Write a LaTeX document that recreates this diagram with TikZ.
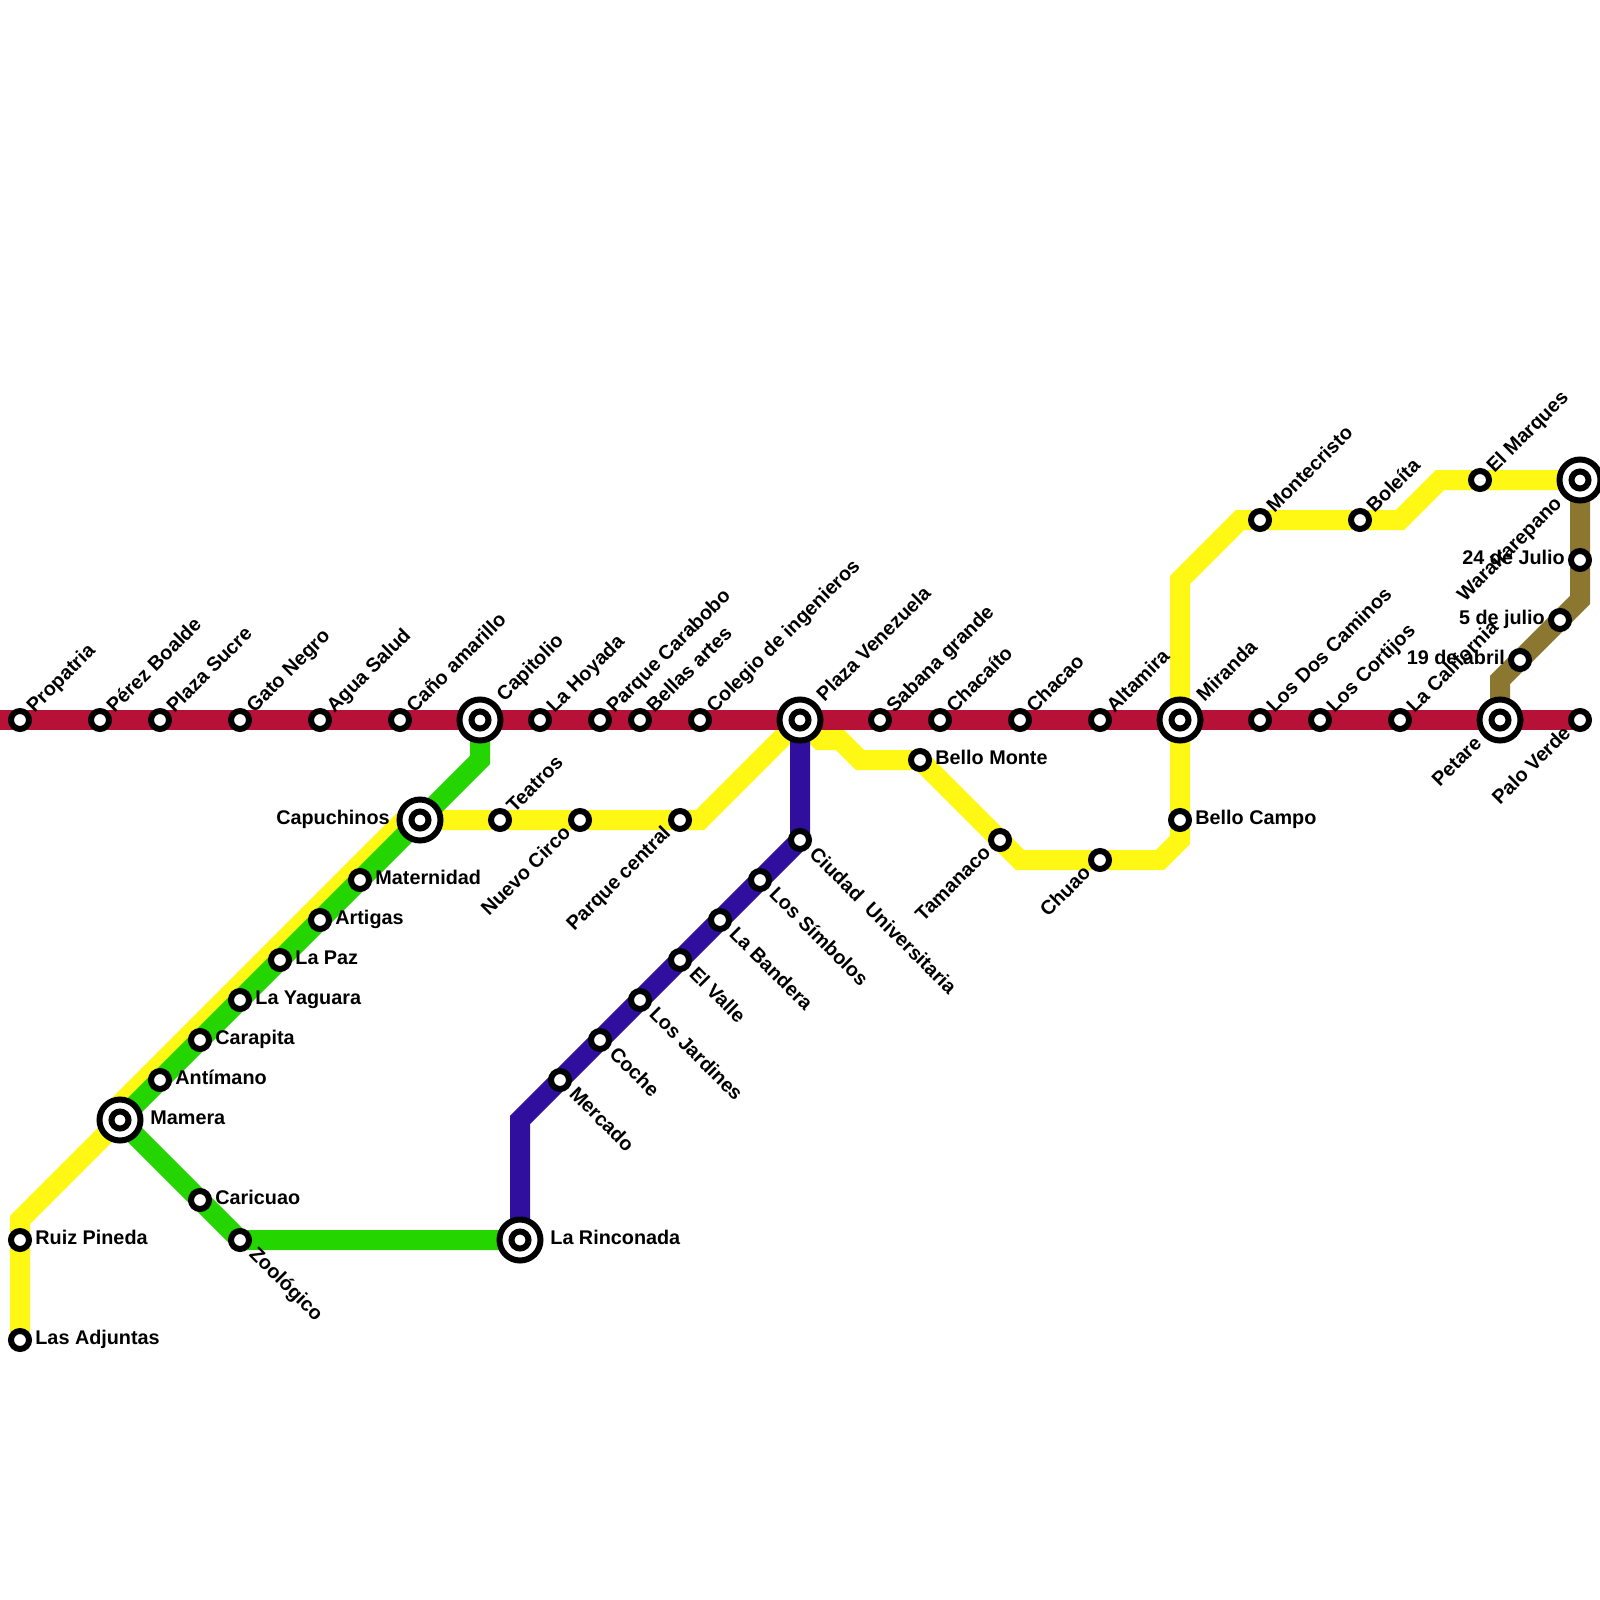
\documentclass[tikz,border=0pt]{standalone}
\usepackage{fontspec}
\setmainfont{Liberation Sans}[BoldFont={Liberation Sans Bold}]
\definecolor{lred}{HTML}{B81138}
\definecolor{lyellow}{HTML}{FFF714}
\definecolor{lgreen}{HTML}{25D500}
\definecolor{lblue}{HTML}{300F9E}
\definecolor{lbrown}{HTML}{8B7730}
\tikzset{
  x=0.5pt,y=-0.5pt,
  metro/.style={line width=10pt,line join=miter},
  sta/.style={circle,draw=black,fill=white,line width=3pt,minimum size=9pt,inner sep=0pt,outer sep=0pt},
  hubo/.style={circle,draw=black,fill=white,line width=3pt,minimum size=20.5pt,inner sep=0pt,outer sep=0pt},
  hubi/.style={circle,draw=black,fill=white,line width=3pt,minimum size=8.5pt,inner sep=0pt,outer sep=0pt},
  txt/.style={font=\bfseries\fontsize{9.9pt}{11pt}\selectfont,inner sep=0pt,text height=7pt,text depth=2pt},
  lne/.style={txt,anchor=west,xshift=5.4pt,yshift=4.8pt,rotate=45},
  lse/.style={txt,anchor=west,xshift=5.8pt,yshift=-5.7pt,rotate=-45},
  lsw/.style={txt,anchor=east,xshift=-5.8pt,yshift=-5.2pt,rotate=45},
  lr/.style={txt,anchor=west,xshift=7.5pt,yshift=0.4pt},
  ll/.style={txt,anchor=east,xshift=-7.4pt,yshift=0.4pt},
  hne/.style={txt,anchor=west,xshift=10.4pt,yshift=10.6pt,rotate=45},
  hsw/.style={txt,anchor=east,xshift=-10.3pt,yshift=-10.5pt,rotate=45},
  hr/.style={txt,anchor=west,xshift=15pt,yshift=0.4pt},
  hl/.style={txt,anchor=east,xshift=-15pt,yshift=0.4pt},
}
\newcommand{\stn}[5]{\node[sta] (#1) at (#2,#3) {}; \node[#4] (#1t) at (#1) {#5};}
\newcommand{\hub}[5]{\node[hubo] (#1) at (#2,#3) {}; \node[hubi] (#1i) at (#1) {}; \node[#4] (#1t) at (#1) {#5};}
\begin{document}
\begin{tikzpicture}
\useasboundingbox (0,0) rectangle (1600,1600);
% free ends and corners
\coordinate (rw) at (0,720);
\coordinate (re) at (1580,720);
\coordinate (lasA) at (20,1340);
\coordinate (ruiz) at (20,1240);
\coordinate (plaza) at (800,720);
\coordinate (capi) at (480,720);
\coordinate (capu) at (420,820);
\coordinate (mame) at (120,1120);
\coordinate (mira) at (1180,720);
\coordinate (waro) at (1580,480);
\coordinate (peta) at (1500,720);
\coordinate (rinc) at (520,1240);
% yellow
\draw[metro,lyellow] (lasA) -- (ruiz) -- (20,1220) -- (mame) -- (112,1112) -- (404,820) -- (capu) -- (700,820) -- (plaza) -- (820,740) -- (840,740) -- (860,760) -- (920,760) -- (1020,860) -- (1160,860) -- (1180,840) -- (mira) -- (1180,580) -- (1240,520) -- (1400,520) -- (1440,480) -- (waro);
% brown
\draw[metro,lbrown] (waro) -- (1580,600) -- (1500,680) -- (peta);
% green
\draw[metro,lgreen] (capi) -- (480,760) -- (capu) -- (mame) -- (240,1240) -- (rinc);
% blue
\draw[metro,lblue] (plaza) -- (800,840) -- (520,1120) -- (rinc);
% red
\draw[metro,lred] (rw) -- (re);
% stations
\stn{a1}{20}{720}{lne}{Propatria}
\stn{a2}{100}{720}{lne}{Pérez Boalde}
\stn{a3}{160}{720}{lne}{Plaza Sucre}
\stn{a4}{240}{720}{lne}{Gato Negro}
\stn{a5}{320}{720}{lne}{Agua Salud}
\stn{a6}{400}{720}{lne}{Caño amarillo}
\hub{a7}{480}{720}{hne}{Capitolio}
\stn{a8}{540}{720}{lne}{La Hoyada}
\stn{a9}{600}{720}{lne}{Parque Carabobo}
\stn{a10}{640}{720}{lne}{Bellas artes}
\stn{a11}{700}{720}{lne}{Colegio de ingenieros}
\hub{a12}{800}{720}{hne}{Plaza Venezuela}
\stn{a13}{880}{720}{lne}{Sabana grande}
\stn{a14}{940}{720}{lne}{Chacaíto}
\stn{a15}{1020}{720}{lne}{Chacao}
\stn{a16}{1100}{720}{lne}{Altamira}
\hub{a17}{1180}{720}{hne}{Miranda}
\stn{a18}{1260}{720}{lne}{Los Dos Caminos}
\stn{a19}{1320}{720}{lne}{Los Cortijos}
\stn{a20}{1400}{720}{lne}{La California}
\hub{a21}{1500}{720}{hsw}{Petare}
\stn{a22}{1580}{720}{lsw}{Palo Verde}
% blue
\stn{b1}{800}{840}{lse}{Ciudad\ \ Universitaria}
\stn{b2}{760}{880}{lse}{Los Símbolos}
\stn{b3}{720}{920}{lse}{La Bandera}
\stn{b4}{680}{960}{lse}{El Valle}
\stn{b5}{640}{1000}{lse}{Los Jardines}
\stn{b6}{600}{1040}{lse}{Coche}
\stn{b7}{560}{1080}{lse}{Mercado}
\hub{b8}{520}{1240}{hr}{La Rinconada}
% green
\hub{g1}{420}{820}{hl}{Capuchinos}
\stn{g2}{360}{880}{lr}{Maternidad}
\stn{g3}{320}{920}{lr}{Artigas}
\stn{g4}{280}{960}{lr}{La Paz}
\stn{g5}{240}{1000}{lr}{La Yaguara}
\stn{g6}{200}{1040}{lr}{Carapita}
\stn{g7}{160}{1080}{lr}{Antímano}
\hub{g8}{120}{1120}{hr}{Mamera}
\stn{g9}{200}{1200}{lr}{Caricuao}
\stn{g10}{240}{1240}{lse}{Zoológico}
% yellow
\stn{y1}{20}{1340}{lr}{Las Adjuntas}
\stn{y2}{20}{1240}{lr}{Ruiz Pineda}
\stn{y3}{500}{820}{lne}{Teatros}
\stn{y4}{580}{820}{lsw}{Nuevo Circo}
\stn{y5}{680}{820}{lsw}{Parque central}
\stn{y6}{920}{760}{lr}{Bello Monte}
\stn{y7}{1000}{840}{lsw}{Tamanaco}
\stn{y8}{1100}{860}{lsw}{Chuao}
\stn{y9}{1180}{820}{lr}{Bello Campo}
\stn{y10}{1260}{520}{lne}{Montecristo}
\stn{y11}{1360}{520}{lne}{Boleíta}
\stn{y12}{1480}{480}{lne}{El Marques}
\hub{y13}{1580}{480}{hsw}{Warairarepano}
% brown
\stn{m1}{1580}{560}{ll}{24 de Julio}
\stn{m2}{1560}{620}{ll}{5 de julio}
\stn{m3}{1520}{660}{ll}{19 de abril}
\end{tikzpicture}
\end{document}
